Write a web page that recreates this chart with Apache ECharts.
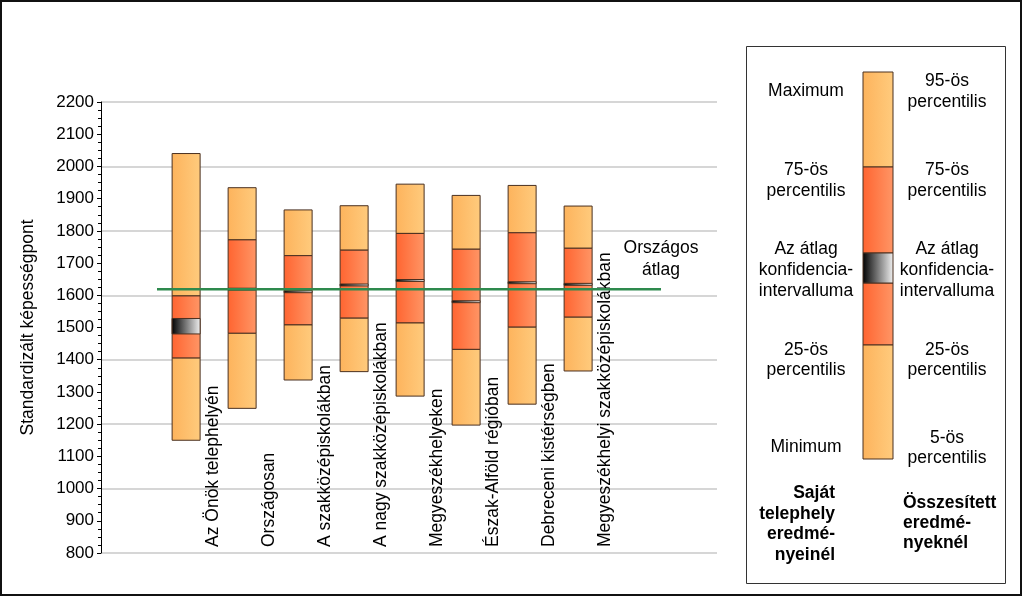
<!DOCTYPE html>
<html>
<head>
<meta charset="utf-8">
<script src="https://cdn.jsdelivr.net/npm/echarts@6/dist/echarts.min.js"></script>
<style>
html,body{margin:0;padding:0;background:#fff;}
#c{width:1024px;height:597px;}
</style>
</head>
<body>
<div id="c"></div>
<script>
// ---- data ----
const categories = ["Az Önök telephelyén","Országosan","A szakközépiskolákban","A nagy szakközépiskolákban","Megyeszékhelyeken","Észak-Alföld régióban","Debreceni kistérségben","Megyeszékhelyi szakközépiskolákban"];
const topValues    = [2040, 1934, 1865, 1878, 1945, 1910, 1941, 1877]; // maximum / 95th percentile
const p75Values    = [1598, 1772, 1723, 1740, 1792, 1743, 1794, 1746];
const ciHighValues = [1528, 1622, 1614, 1635, 1649, 1583, 1642, 1637];
const ciLowValues  = [1480, 1616, 1608, 1629, 1643, 1577, 1636, 1631];
const p25Values    = [1405, 1482, 1508, 1529, 1514, 1432, 1501, 1532];
const bottomValues = [1150, 1249, 1337, 1363, 1287, 1197, 1262, 1365]; // minimum / 5th percentile
const nationalMean = 1619;
const yTicks = {min: 800, max: 2200, step: 100};
const yAxisTitle = "Standardizált képességpont";
const meanLabel = "Országos\nátlag";

const FONT = '"Liberation Sans", Arial, sans-serif';
const lightGrad = () => new echarts.graphic.LinearGradient(0,0,1,0,[{offset:0,color:'#FDB35C'},{offset:1,color:'#FFCB7D'}]);
const redGrad = () => new echarts.graphic.LinearGradient(0,0,1,0,[{offset:0,color:'#FF6430'},{offset:1,color:'#FF9666'}]);
const ciGrad = () => new echarts.graphic.LinearGradient(0,0,1,0,[{offset:0,color:'#000000'},{offset:1,color:'#F2F2F2'}]);
const EDGE = '#4A3020';

const boxData = categories.map((c,i)=>[i+1.52, bottomValues[i], p25Values[i], ciLowValues[i], ciHighValues[i], p75Values[i], topValues[i]]);
const labelData = categories.map((c,i)=>[i+2, yTicks.min]);

function renderBox(params, api){
  const x = api.value(0);
  const w = api.size([0.5,0])[0];
  const seg = (a,b,fill,lw)=>{
    const p1 = api.coord([x, api.value(b)]);
    const p0 = api.coord([x, api.value(a)]);
    return {type:'rect', shape:{x:p1[0]-w/2, y:p1[1], width:w, height:p0[1]-p1[1]},
      style:{fill:fill, stroke:EDGE, lineWidth:lw||1}};
  };
  return {type:'group', children:[
    seg(5,6,lightGrad()),
    seg(2,5,redGrad()),
    seg(1,2,lightGrad()),
    seg(3,4,ciGrad(),1)
  ]};
}
function renderLabel(params, api){
  const p = api.coord([api.value(0), api.value(1)]);
  return {type:'text', x:p[0], y:p[1]-6, rotation:Math.PI/2,
    style:{text:categories[params.dataIndex], x:0, y:0, align:'left', verticalAlign:'middle',
      fontSize:17.5, fontFamily:FONT, fill:'#000'}};
}
function renderMeanLabel(params, api){
  const p = api.coord([api.value(0), api.value(1)]);
  return {type:'text', x:p[0], y:p[1]-8,
    style:{text:meanLabel, x:0, y:0, align:'center', verticalAlign:'bottom',
      fontSize:17.5, fontFamily:FONT, fill:'#000', lineHeight:22}};
}

// legend (schematic)
const LX=863, LW=30;
const legendSegs = [[72,167,lightGrad()],[167,253,redGrad()],[283,345,redGrad()],[345,459,lightGrad()],[253,283,ciGrad()]];
const legendGraphics = [
  {type:'rect', shape:{x:746.5,y:46.5,width:259,height:537}, style:{fill:'#fff', stroke:'#333', lineWidth:1}},
  ...legendSegs.map(s=>({type:'rect', shape:{x:LX,y:s[0],width:LW,height:s[1]-s[0]}, style:{fill:s[2], stroke:EDGE, lineWidth:1}}))
];
function txt(str, x, y, align, bold){
  return {type:'text', x:x, y:y, style:{text:str, align:align, verticalAlign:'middle', fontSize:17.5,
    fontFamily:FONT, fontWeight: bold?'bold':'normal', fill:'#000', lineHeight:21}};
}
const leftCol = [["Maximum",91],["75-ös",170],["percentilis",191],["Az átlag",249],["konfidencia-",270],["intervalluma",291],["25-ös",350],["percentilis",370],["Minimum",447]];
const rightCol = [["95-ös",81],["percentilis",102],["75-ös",170],["percentilis",191],["Az átlag",249],["konfidencia-",270],["intervalluma",291],["25-ös",350],["percentilis",370],["5-ös",438],["percentilis",458]];
const leftBold = [["Saját",493],["telephely",514],["eredmé-",534],["nyeinél",555]];
const rightBold = [["Összesített",503],["eredmé-",523],["nyeknél",543]];
leftCol.forEach(t=>legendGraphics.push(txt(t[0],806,t[1],'center')));
rightCol.forEach(t=>legendGraphics.push(txt(t[0],947,t[1],'center')));
leftBold.forEach(t=>legendGraphics.push(txt(t[0],835,t[1],'right',true)));
rightBold.forEach(t=>legendGraphics.push(txt(t[0],903,t[1],'left',true)));
legendGraphics.push({type:'rect', shape:{x:1,y:1,width:1020,height:594}, style:{fill:'none', stroke:'#111', lineWidth:2}, z:100});

const chart = echarts.init(document.getElementById('c'), null, {renderer:'canvas'});
chart.setOption({
  animation:false,
  backgroundColor:'#fff',
  grid:{left:101, right:307, top:102, bottom:44},
  xAxis:{type:'value', min:0, max:11, show:false},
  yAxis:[
    {type:'value', min:yTicks.min, max:yTicks.max, interval:yTicks.step,
     name:yAxisTitle, nameLocation:'middle', nameRotate:90, nameGap:64,
     nameTextStyle:{fontSize:17.5, fontFamily:FONT, color:'#000'},
     axisLine:{show:true, lineStyle:{color:'#000', width:1}},
     axisTick:{show:true, length:4, lineStyle:{color:'#000'}},
     minorTick:{show:true, splitNumber:4, length:3, lineStyle:{color:'#000'}},
     axisLabel:{fontSize:17, fontFamily:FONT, color:'#000', margin:7, formatter:(v)=>String(v)},
     splitLine:{show:false}},
    {type:'value', min:yTicks.min, max:yTicks.max, interval:yTicks.step*2, position:'left',
     axisLine:{show:false}, axisTick:{show:false}, axisLabel:{show:false},
     splitLine:{show:true, lineStyle:{color:'#C8C8C8', width:1.5}}}
  ],
  graphic: legendGraphics,
  series:[
    {type:'custom', renderItem:renderBox, data:boxData, yAxisIndex:0, z:3, clip:false},
    {type:'line', data:[[1,nationalMean],[10,nationalMean]], symbol:'none', z:5,
     lineStyle:{color:'#2E8A4E', width:2.5}},
    {type:'custom', renderItem:renderMeanLabel, data:[[10,nationalMean]], z:6, clip:false},
    {type:'custom', renderItem:renderLabel, data:labelData, z:4, clip:false}
  ]
});
</script>
</body>
</html>
